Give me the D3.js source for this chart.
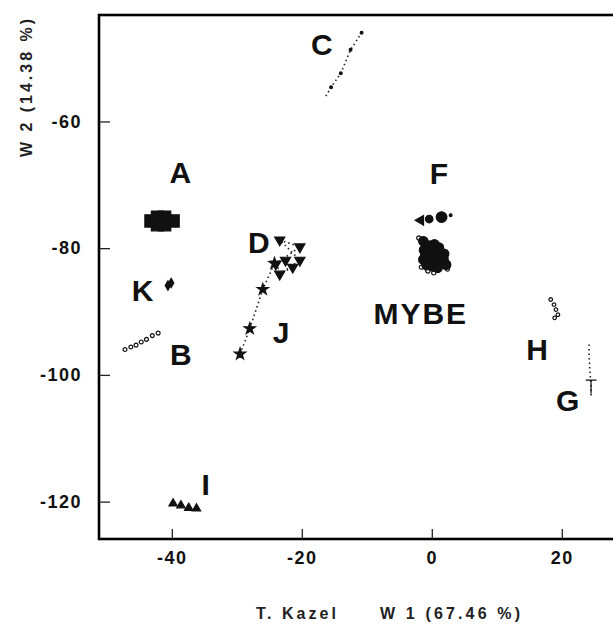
<!DOCTYPE html>
<html>
<head>
<meta charset="utf-8">
<script src="https://cdn.jsdelivr.net/npm/d3@7"></script>
<style>
  body { margin: 0; background: #fff; }
  svg { display: block; font-family: "Liberation Sans", Arial, sans-serif; }
</style>
</head>
<body>
<svg id="chart" width="613" height="624"></svg>
<script>
// cluster points [W1, W2]
const groupA = [[-43.2, -75.7], [-42.2, -75.1], [-41.1, -75.1], [-39.8, -75.7], [-42.2, -76.3], [-41.1, -76.3]];
const groupB = [[-47.2, -96.0], [-46.3, -95.6], [-45.5, -95.3], [-44.7, -94.8], [-43.9, -94.4], [-43.0, -93.8], [-42.1, -93.4]];
const groupC = [[-15.5, -54.6], [-14.0, -52.4], [-12.5, -48.7], [-10.8, -46.0]];
const groupD = [[-23.4, -78.7], [-20.3, -79.8], [-24.0, -82.5], [-22.5, -81.9], [-21.4, -83.0], [-23.4, -84.1], [-20.3, -81.9]];
const groupF = [[-1.7, -75.6], [-0.4, -75.4], [1.5, -75.1], [2.9, -74.8]];
const groupG = [[24.2, -95.2], [24.2, -97.1], [24.3, -99.0], [24.5, -101.9]];
const groupH = [[18.3, -88.1], [18.8, -88.9], [19.1, -89.7], [19.4, -90.5], [18.9, -91.0]];
const groupI = [[-39.8, -120.3], [-38.6, -120.6], [-37.4, -121.0], [-36.2, -121.1]];
const groupJ = [[-29.5, -96.7], [-28.0, -92.7], [-26.0, -86.5], [-24.2, -82.4]];
const groupK = [[-40.6, -85.9], [-40.1, -85.5]];
const groupMYBE = [[-1.3, -78.9], [-0.4, -79.6], [0.4, -79.4], [1.1, -79.9], [-1.2, -80.3],
  [-0.5, -80.4], [0.3, -80.6], [1.2, -80.5], [1.9, -80.9], [-1.0, -81.1], [0.0, -81.3], [0.9, -81.2],
  [1.8, -81.7], [-1.3, -81.8], [-0.4, -82.0], [0.6, -82.1], [1.4, -82.4], [2.2, -82.6], [-0.8, -82.7],
  [0.2, -82.9], [0.9, -83.1]];
const groupMYBEOpen = [[-2.0, -78.4], [-1.6, -83.0], [-0.6, -83.6], [0.3, -83.9], [2.4, -83.3]];

// group labels
const labelNames = ['A', 'B', 'C', 'D', 'F', 'G', 'H', 'I', 'J', 'K', 'MYBE'];
const labelW1 = [-38.7, -38.6, -16.9, -26.6, 1.1, 20.9, 16.2, -34.8, -23.2, -44.5, -1.7];
const labelW2 = [-68.0, -96.8, -47.8, -79.0, -68.1, -104.0, -96.0, -117.3, -93.2, -86.7, -90.2];

const xTicks = [-40, -20, 0, 20];
const yTicks = [-60, -80, -100, -120];

const svg = d3.select('#chart');
const plotLeft = 99, plotTop = 15, plotBottom = 539;

const x = d3.scaleLinear().domain([-51.2, 30]).range([plotLeft, plotLeft + 81.2 * 6.5]);
const y = d3.scaleLinear().domain([-125.9, -43.2]).range([plotBottom, plotTop]);

// frame
svg.append('rect')
  .attr('x', plotLeft).attr('y', plotTop)
  .attr('width', x(30) - plotLeft).attr('height', plotBottom - plotTop)
  .attr('fill', 'none').attr('stroke', '#000').attr('stroke-width', 2.6);

// axes
const xAxis = svg.append('g')
  .attr('transform', 'translate(0,' + plotBottom + ')')
  .call(d3.axisBottom(x).tickValues(xTicks).tickSizeInner(-10).tickSizeOuter(0).tickPadding(12).tickFormat(d3.format('d')));
const yAxis = svg.append('g')
  .attr('transform', 'translate(' + plotLeft + ',0)')
  .call(d3.axisLeft(y).tickValues(yTicks).tickSizeInner(-11).tickSizeOuter(0).tickPadding(17).tickFormat(d3.format('d')));
[xAxis, yAxis].forEach(a => {
  a.select('.domain').remove();
  a.selectAll('line').attr('stroke', '#222').attr('stroke-width', 1.3);
  a.selectAll('text')
    .attr('fill', '#111')
    .style('font-size', '18px')
    .style('font-weight', 'bold')
    .style('letter-spacing', '1.5px')
    .text(d => d < 0 ? '-' + Math.abs(d) : d);
});

// axis titles
svg.append('text')
  .attr('transform', 'translate(32,88) rotate(-90)')
  .attr('text-anchor', 'middle')
  .attr('textLength', 138).attr('lengthAdjust', 'spacing')
  .style('font-size', '16px').style('font-weight', 'bold').attr('fill', '#222')
  .text('W 2 (14.38 %)');
svg.append('text')
  .attr('x', 296).attr('y', 619).attr('text-anchor', 'middle')
  .attr('textLength', 80).attr('lengthAdjust', 'spacing')
  .style('font-size', '16px').style('font-weight', 'bold').attr('fill', '#222')
  .text('T. Kazel');
svg.append('text')
  .attr('x', 450).attr('y', 619).attr('text-anchor', 'middle')
  .attr('textLength', 140).attr('lengthAdjust', 'spacing')
  .style('font-size', '16px').style('font-weight', 'bold').attr('fill', '#222')
  .text('W 1 (67.46 %)');

const plot = svg.append('g');
const line = d3.line().x(d => x(d[0])).y(d => y(d[1]));

// dotted trails
const trails = [
  [[-16.3, -56.0], ...groupC],
  groupJ,
  [...groupG, [24.5, -103.5]],
  groupD.concat([groupD[0]])
];
trails.forEach(pts => {
  plot.append('path')
    .attr('d', line(pts))
    .attr('fill', 'none').attr('stroke', '#222')
    .attr('stroke-width', 1.6).attr('stroke-dasharray', '1.5,3');
});

// T-shaped marker
const symbolT = {
  draw(ctx, size) {
    const h = Math.sqrt(size);
    ctx.moveTo(-h * 0.4, -h / 2);
    ctx.lineTo(h * 0.4, -h / 2);
    ctx.moveTo(0, -h / 2);
    ctx.lineTo(0, h / 2);
  }
};

function drawSymbols(data, type, size, filled, rotate) {
  plot.selectAll(null)
    .data(data)
    .enter()
    .append('path')
    .attr('d', d3.symbol().type(type).size(size))
    .attr('transform', d => 'translate(' + x(d[0]) + ',' + y(d[1]) + ')' + (rotate ? ' rotate(' + rotate + ')' : ''))
    .attr('fill', filled ? '#111' : 'none')
    .attr('stroke', '#111')
    .attr('stroke-width', 1.2);
}

drawSymbols(groupA, d3.symbolSquare, 150, true);
drawSymbols(groupB, d3.symbolCircle, 12, false);
drawSymbols(groupC, d3.symbolCircle, 6, true);
drawSymbols(groupD, d3.symbolTriangle, 45, true, 180);
drawSymbols(groupF.slice(0, 1), d3.symbolTriangle, 40, true, -90);
drawSymbols(groupF.slice(1, 2), d3.symbolCircle, 45, true);
drawSymbols(groupF.slice(2, 3), d3.symbolCircle, 90, true);
drawSymbols(groupF.slice(3), d3.symbolCircle, 6, true);
drawSymbols(groupG.slice(3), symbolT, 180, false);
drawSymbols(groupH, d3.symbolCircle, 10, false);
drawSymbols(groupI, d3.symbolTriangle, 30, true);
drawSymbols(groupJ, d3.symbolStar, 40, true);
drawSymbols(groupK, d3.symbolDiamond, 25, true);
drawSymbols(groupMYBE, d3.symbolCircle, 70, true);
drawSymbols(groupMYBEOpen, d3.symbolCircle, 14, false);

// group labels
plot.selectAll('.glabel')
  .data(labelNames)
  .enter()
  .append('text')
  .attr('class', 'glabel')
  .attr('x', (d, i) => x(labelW1[i]))
  .attr('y', (d, i) => y(labelW2[i]))
  .attr('dy', '0.36em')
  .attr('text-anchor', 'middle')
  .style('font-size', '30px')
  .style('font-weight', 'bold')
  .style('letter-spacing', d => d.length > 1 ? '2px' : '0px')
  .attr('fill', '#111')
  .text(d => d);
</script>
</body>
</html>
